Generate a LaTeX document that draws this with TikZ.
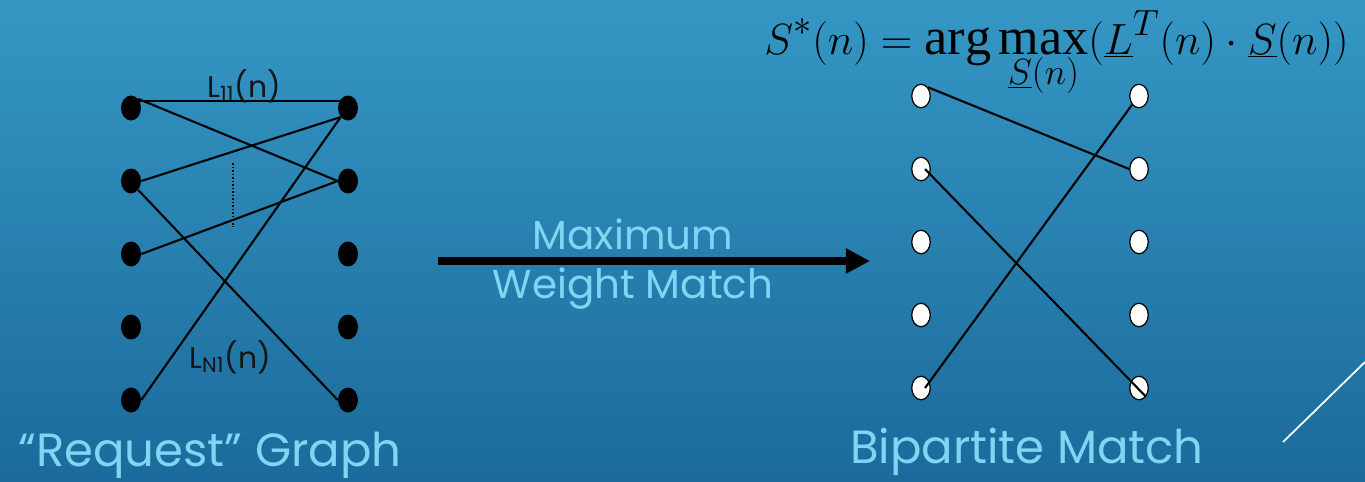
\documentclass[tikz,border=0pt]{standalone}
\usepackage{fontspec}
\setmainfont{Liberation Serif}
\newfontfamily\gothic{Poppins}
\usetikzlibrary{arrows.meta,shapes.geometric}
\definecolor{BgTop}{HTML}{3597C4}
\definecolor{BgBot}{HTML}{1B6A9B}
\definecolor{Caption}{HTML}{7DD6F2}
\definecolor{Ink}{HTML}{151515}
\tikzset{
  fulldot/.style={ellipse,fill=black,minimum width=0.4cm,minimum height=0.5cm,inner sep=0pt},
  opendot/.style={ellipse,draw=black,line width=0.7pt,fill=white,minimum width=0.37cm,minimum height=0.47cm,inner sep=0pt},
  link/.style={draw=black,line width=1.2pt},
  caption/.style={text=Caption,font=\gothic\fontsize{26.5}{30}\selectfont,inner sep=0pt},
  midlabel/.style={text=Caption,font=\gothic\fontsize{23}{26}\selectfont,inner sep=0pt,anchor=base},
  weight/.style={text=Ink,font=\gothic\fontsize{17}{19}\selectfont,inner sep=0pt}
}

\begin{document}
\begin{tikzpicture}[x=0.02cm,y=-0.02cm]
  \shade[top color=BgTop,bottom color=BgBot] (0,0) rectangle (1365,481);
  \useasboundingbox (0,0) rectangle (1365,481);
  % request graph
  \foreach \i/\y in {1/108,2/181,3/254,4/327,5/400}{
    \node[fulldot] (a\i) at (131,\y) {};
    \node[fulldot] (b\i) at (348,\y) {};
  }
  \draw[link] ([yshift=0.14cm]a1.center) -- ([yshift=0.14cm]b1.center);
  \draw[link] (a1.north east) -- (b2.west);
  \draw[link] (a2.east) -- (b1.south west);
  \draw[link] (a2.south east) -- (b5.west);
  \draw[link] (a3.east) -- (b2.west);
  \draw[link] (a5.east) -- (b1.south west);
  \draw[line width=0.6pt,dash pattern=on 1pt off 1pt] (233,163) -- (233,227);
  \node[weight] (l11) at (244,86) {L\textsubscript{11}(n)};
  \node[weight] (ln1) at (230,357) {L\textsubscript{N1}(n)};
  \node[caption] (req) at (210,455) {“Request” Graph};
  % maximum weight match
  \coordinate (mwfrom) at (438,261);
  \coordinate (mwto) at (870,261);
  \draw[line width=4.6pt,-{Triangle[length=13.7pt,width=13.5pt]}] (mwfrom) -- (mwto);
  \node[midlabel] (mwtop) at (633,249) {Maximum};
  \node[midlabel] (mwbot) at (633,298) {Weight Match};
  % bipartite match
  \foreach \i/\y in {1/96,2/169,3/242,4/315,5/388}{
    \node[opendot] (c\i) at (921,\y) {};
    \node[opendot] (d\i) at (1139,\y) {};
  }
  \draw[link] (c1.north east) -- (d2.west);
  \draw[link] ([xshift=0.08cm]c2.center) -- (d5.south east);
  \draw[link] ([xshift=0.08cm]c5.center) -- (d1.south west);
  \node[anchor=base west,inner sep=0pt,font=\fontsize{29.7}{32}\selectfont] (opt) at (764,54)
    {$\displaystyle S^{*}(n)=\arg\max\limits_{\underline{S}(n)}(\underline{L}^{T}(n)\cdot\underline{S}(n))$};
  \node[caption] (bip) at (1027,452) {Bipartite Match};
  \draw[white,line width=1pt] (1283,442) -- (1365,362);
\end{tikzpicture}
\end{document}
